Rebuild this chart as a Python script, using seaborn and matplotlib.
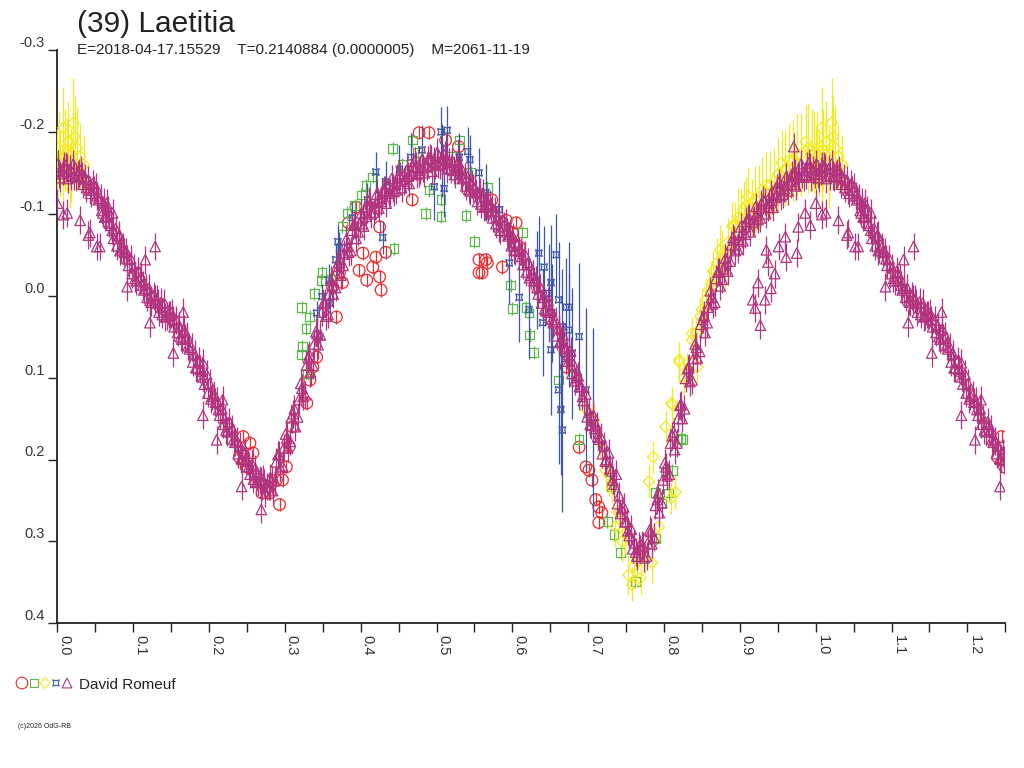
import pandas as pd
import seaborn as sns
import matplotlib.pyplot as plt
import numpy as np
from matplotlib.ticker import MultipleLocator, FuncFormatter

# titles
title = "(39) Laetitia"
subtitle = "E=2018-04-17.15529    T=0.2140884 (0.0000005)    M=2061-11-19"
observer = "David Romeuf"
copyright_txt = "(c)2026 OdG-RB"

# purple triangles (main session), phase 0..1
purple_phase = [
    0.001, 0.004, 0.007, 0.011, 0.014, 0.017, 0.021, 0.024, 0.027, 0.031, 0.034, 0.037,
    0.041, 0.044, 0.047, 0.051, 0.054, 0.057, 0.061, 0.064, 0.067, 0.071, 0.074, 0.077,
    0.081, 0.084, 0.087, 0.091, 0.094, 0.097, 0.101, 0.104, 0.107, 0.111, 0.114, 0.117,
    0.121, 0.124, 0.127, 0.131, 0.134, 0.137, 0.141, 0.144, 0.147, 0.151, 0.154, 0.157,
    0.161, 0.164, 0.167, 0.171, 0.174, 0.177, 0.181, 0.184, 0.187, 0.191, 0.194, 0.197,
    0.201, 0.204, 0.207, 0.211, 0.214, 0.217, 0.221, 0.224, 0.227, 0.231, 0.234, 0.237,
    0.241, 0.244, 0.247, 0.251, 0.254, 0.257, 0.261, 0.264, 0.267, 0.271, 0.274, 0.277,
    0.281, 0.284, 0.287, 0.291, 0.294, 0.297, 0.301, 0.304, 0.307, 0.311, 0.314, 0.317,
    0.321, 0.324, 0.327, 0.331, 0.334, 0.337, 0.341, 0.344, 0.347, 0.351, 0.354, 0.357,
    0.361, 0.364, 0.367, 0.371, 0.374, 0.377, 0.381, 0.384, 0.387, 0.391, 0.394, 0.397,
    0.401, 0.404, 0.407, 0.411, 0.414, 0.417, 0.421, 0.424, 0.427, 0.431, 0.434, 0.437,
    0.441, 0.444, 0.447, 0.451, 0.454, 0.457, 0.461, 0.464, 0.467, 0.471, 0.474, 0.477,
    0.481, 0.484, 0.487, 0.491, 0.494, 0.497, 0.501, 0.504, 0.507, 0.511, 0.514, 0.517,
    0.521, 0.524, 0.527, 0.531, 0.534, 0.537, 0.541, 0.544, 0.547, 0.551, 0.554, 0.557,
    0.561, 0.564, 0.567, 0.571, 0.574, 0.577, 0.581, 0.584, 0.587, 0.591, 0.594, 0.597,
    0.601, 0.604, 0.607, 0.611, 0.614, 0.617, 0.621, 0.624, 0.627, 0.631, 0.634, 0.637,
    0.641, 0.644, 0.647, 0.651, 0.654, 0.657, 0.661, 0.664, 0.667, 0.671, 0.674, 0.677,
    0.681, 0.684, 0.687, 0.691, 0.694, 0.697, 0.701, 0.704, 0.707, 0.711, 0.714, 0.717,
    0.721, 0.724, 0.727, 0.731, 0.734, 0.737, 0.741, 0.744, 0.747, 0.751, 0.754, 0.757,
    0.761, 0.764, 0.767, 0.771, 0.774, 0.777, 0.781, 0.784, 0.787, 0.791, 0.794, 0.797,
    0.801, 0.804, 0.807, 0.811, 0.814, 0.817, 0.821, 0.824, 0.827, 0.831, 0.834, 0.837,
    0.841, 0.844, 0.847, 0.851, 0.854, 0.857, 0.861, 0.864, 0.867, 0.871, 0.874, 0.877,
    0.881, 0.884, 0.887, 0.891, 0.894, 0.897, 0.901, 0.904, 0.907, 0.911, 0.914, 0.917,
    0.921, 0.924, 0.927, 0.931, 0.934, 0.937, 0.941, 0.944, 0.947, 0.951, 0.954, 0.957,
    0.961, 0.964, 0.967, 0.971, 0.974, 0.977, 0.981, 0.984, 0.987, 0.991, 0.994, 0.997,
]
purple_mag = [
    -0.161, -0.144, -0.152, -0.159, -0.143, -0.155, -0.161, -0.145, -0.147, -0.153, -0.136, -0.144,
    -0.141, -0.125, -0.137, -0.133, -0.117, -0.119, -0.114, -0.097, -0.105, -0.086, -0.070, -0.082,
    -0.073, -0.057, -0.059, -0.054, -0.037, -0.045, -0.034, -0.018, -0.030, -0.023, -0.007, -0.009,
    -0.009, 0.008, 0.000, 0.004, 0.020, 0.008, 0.009, 0.025, 0.023, 0.021, 0.038, 0.030,
    0.037, 0.053, 0.041, 0.049, 0.065, 0.063, 0.071, 0.088, 0.080, 0.092, 0.108, 0.096,
    0.107, 0.123, 0.121, 0.129, 0.146, 0.138, 0.150, 0.166, 0.154, 0.163, 0.179, 0.177,
    0.183, 0.200, 0.192, 0.202, 0.218, 0.206, 0.211, 0.227, 0.225, 0.224, 0.241, 0.233,
    0.222, 0.238, 0.226, 0.194, 0.210, 0.208, 0.169, 0.186, 0.178, 0.144, 0.160, 0.148,
    0.107, 0.123, 0.121, 0.076, 0.093, 0.085, 0.044, 0.060, 0.048, 0.009, 0.025, 0.023,
    -0.019, -0.002, -0.010, -0.041, -0.025, -0.037, -0.069, -0.053, -0.055, -0.087, -0.070, -0.078,
    -0.101, -0.085, -0.097, -0.116, -0.100, -0.102, -0.124, -0.107, -0.115, -0.129, -0.113, -0.125,
    -0.143, -0.127, -0.129, -0.149, -0.132, -0.140, -0.153, -0.137, -0.149, -0.164, -0.148, -0.150,
    -0.167, -0.150, -0.158, -0.168, -0.152, -0.164, -0.175, -0.159, -0.161, -0.172, -0.155, -0.163,
    -0.164, -0.148, -0.160, -0.159, -0.143, -0.145, -0.145, -0.128, -0.136, -0.131, -0.115, -0.127,
    -0.125, -0.109, -0.111, -0.112, -0.095, -0.103, -0.096, -0.080, -0.092, -0.089, -0.073, -0.075,
    -0.072, -0.055, -0.063, -0.054, -0.038, -0.050, -0.041, -0.025, -0.027, -0.019, -0.002, -0.010,
    0.002, 0.018, 0.006, 0.017, 0.033, 0.031, 0.039, 0.056, 0.048, 0.064, 0.080, 0.068,
    0.084, 0.100, 0.098, 0.111, 0.128, 0.120, 0.142, 0.158, 0.146, 0.159, 0.175, 0.173,
    0.183, 0.200, 0.192, 0.214, 0.230, 0.218, 0.244, 0.260, 0.258, 0.276, 0.293, 0.285,
    0.302, 0.318, 0.306, 0.304, 0.320, 0.318, 0.286, 0.303, 0.295, 0.249, 0.265, 0.253,
    0.204, 0.220, 0.218, 0.171, 0.188, 0.180, 0.134, 0.150, 0.138, 0.089, 0.105, 0.103,
    0.059, 0.076, 0.068, 0.029, 0.045, 0.033, -0.006, 0.010, 0.008, -0.029, -0.012, -0.020,
    -0.046, -0.030, -0.042, -0.071, -0.055, -0.057, -0.084, -0.067, -0.075, -0.094, -0.078, -0.090,
    -0.109, -0.093, -0.095, -0.117, -0.100, -0.108, -0.124, -0.108, -0.120, -0.138, -0.122, -0.124,
    -0.145, -0.128, -0.136, -0.150, -0.134, -0.146, -0.161, -0.145, -0.147, -0.162, -0.145, -0.153,
]
# second purple session, interleaved with the first
purple2_phase = [
    0.0025, 0.0085, 0.0125, 0.0185, 0.0225, 0.0285, 0.0325, 0.0385, 0.0425, 0.0485,
    0.0525, 0.0585, 0.0625, 0.0685, 0.0725, 0.0785, 0.0825, 0.0885, 0.0925, 0.0985,
    0.1025, 0.1085, 0.1125, 0.1185, 0.1225, 0.1285, 0.1325, 0.1385, 0.1425, 0.1485,
    0.1525, 0.1585, 0.1625, 0.1685, 0.1725, 0.1785, 0.1825, 0.1885, 0.1925, 0.1985,
    0.2025, 0.2085, 0.2125, 0.2185, 0.2225, 0.2285, 0.2325, 0.2385, 0.2425, 0.2485,
    0.2525, 0.2585, 0.2625, 0.2685, 0.2725, 0.2785, 0.2825, 0.2885, 0.2925, 0.2985,
    0.3025, 0.3085, 0.3125, 0.3185, 0.3225, 0.3285, 0.3325, 0.3385, 0.3425, 0.3485,
    0.3525, 0.3585, 0.3625, 0.3685, 0.3725, 0.3785, 0.3825, 0.3885, 0.3925, 0.3985,
    0.4025, 0.4085, 0.4125, 0.4185, 0.4225, 0.4285, 0.4325, 0.4385, 0.4425, 0.4485,
    0.4525, 0.4585, 0.4625, 0.4685, 0.4725, 0.4785, 0.4825, 0.4885, 0.4925, 0.4985,
    0.5025, 0.5085, 0.5125, 0.5185, 0.5225, 0.5285, 0.5325, 0.5385, 0.5425, 0.5485,
    0.5525, 0.5585, 0.5625, 0.5685, 0.5725, 0.5785, 0.5825, 0.5885, 0.5925, 0.5985,
    0.6025, 0.6085, 0.6125, 0.6185, 0.6225, 0.6285, 0.6325, 0.6385, 0.6425, 0.6485,
    0.6525, 0.6585, 0.6625, 0.6685, 0.6725, 0.6785, 0.6825, 0.6885, 0.6925, 0.6985,
    0.7025, 0.7085, 0.7125, 0.7185, 0.7225, 0.7285, 0.7325, 0.7385, 0.7425, 0.7485,
    0.7525, 0.7585, 0.7625, 0.7685, 0.7725, 0.7785, 0.7825, 0.7885, 0.7925, 0.7985,
    0.8025, 0.8085, 0.8125, 0.8185, 0.8225, 0.8285, 0.8325, 0.8385, 0.8425, 0.8485,
    0.8525, 0.8585, 0.8625, 0.8685, 0.8725, 0.8785, 0.8825, 0.8885, 0.8925, 0.8985,
    0.9025, 0.9085, 0.9125, 0.9185, 0.9225, 0.9285, 0.9325, 0.9385, 0.9425, 0.9485,
    0.9525, 0.9585, 0.9625, 0.9685, 0.9725, 0.9785, 0.9825, 0.9885, 0.9925, 0.9985,
]
purple2_mag = [
    -0.149, -0.158, -0.156, -0.146, -0.146, -0.150, -0.146, -0.132, -0.129, -0.129,
    -0.122, -0.104, -0.096, -0.089, -0.080, -0.061, -0.055, -0.053, -0.045, -0.027,
    -0.021, -0.019, -0.013, 0.002, 0.006, 0.004, 0.009, 0.023, 0.026, 0.024,
    0.029, 0.045, 0.050, 0.052, 0.061, 0.081, 0.088, 0.090, 0.099, 0.119,
    0.126, 0.130, 0.139, 0.157, 0.164, 0.166, 0.175, 0.193, 0.199, 0.201,
    0.208, 0.224, 0.228, 0.226, 0.228, 0.233, 0.225, 0.203, 0.194, 0.186,
    0.174, 0.149, 0.138, 0.127, 0.113, 0.085, 0.072, 0.059, 0.046, 0.020,
    0.009, -0.002, -0.013, -0.036, -0.045, -0.051, -0.060, -0.080, -0.086, -0.088,
    -0.095, -0.109, -0.112, -0.110, -0.114, -0.127, -0.129, -0.127, -0.131, -0.144,
    -0.146, -0.142, -0.146, -0.157, -0.158, -0.153, -0.156, -0.166, -0.167, -0.160,
    -0.161, -0.168, -0.166, -0.155, -0.153, -0.155, -0.149, -0.134, -0.130, -0.132,
    -0.126, -0.112, -0.108, -0.110, -0.104, -0.088, -0.084, -0.085, -0.078, -0.061,
    -0.056, -0.055, -0.048, -0.029, -0.022, -0.018, -0.010, 0.009, 0.016, 0.020,
    0.029, 0.049, 0.057, 0.062, 0.072, 0.095, 0.104, 0.111, 0.123, 0.148,
    0.157, 0.162, 0.172, 0.193, 0.202, 0.211, 0.225, 0.254, 0.266, 0.276,
    0.287, 0.309, 0.313, 0.309, 0.306, 0.302, 0.288, 0.256, 0.241, 0.225,
    0.209, 0.180, 0.166, 0.150, 0.133, 0.101, 0.088, 0.077, 0.063, 0.035,
    0.024, 0.014, 0.002, -0.021, -0.029, -0.033, -0.042, -0.062, -0.068, -0.069,
    -0.075, -0.091, -0.095, -0.093, -0.098, -0.112, -0.115, -0.113, -0.117, -0.131,
    -0.133, -0.131, -0.135, -0.148, -0.150, -0.145, -0.148, -0.158, -0.157, -0.148,
]
# scattered purple points off the main band
purple_out_phase = [0.000, 0.013, 0.043, 0.056, 0.065, 0.073, 0.082, 0.092, 0.116, 0.122,
                    0.129, 0.153, 0.166, 0.192, 0.192, 0.210, 0.218, 0.243, 0.269,
                    0.917, 0.920, 0.924, 0.927, 0.933, 0.935, 0.937, 0.941, 0.946, 0.951,
                    0.960, 0.961, 0.971, 0.975, 0.977, 0.986, 0.993, 0.008, 0.030, 0.041,
                    0.052, 0.060]
purple_out_mag = [-0.113, -0.101, -0.077, -0.060, -0.113, -0.101, -0.074, -0.011, -0.044, 0.033,
                  -0.060, 0.070, 0.020, 0.082, 0.146, 0.176, 0.127, 0.233, 0.261,
                  0.005, 0.015, -0.016, 0.036, 0.005, -0.056, -0.041, -0.009, -0.027, -0.060,
                  -0.072, -0.047, -0.182, -0.052, -0.084, -0.101, -0.086, -0.099, -0.092, -0.074,
                  -0.060, -0.101]
purple_err = 0.017

# red circles
red_phase = [0.240, 0.245, 0.249, 0.254, 0.258, 0.262, 0.270, 0.280, 0.289, 0.293,
             0.297, 0.302, 0.306, 0.310, 0.329, 0.333, 0.337, 0.342, 0.363, 0.368,
             0.372, 0.376, 0.384, 0.394, 0.398, 0.403, 0.408, 0.416, 0.420, 0.425,
             0.425, 0.427, 0.433, 0.468, 0.477, 0.490, 0.512, 0.529, 0.556, 0.556,
             0.560, 0.565, 0.567, 0.573, 0.587, 0.592, 0.600, 0.605, 0.609, 0.671,
             0.688, 0.697, 0.701, 0.705, 0.710, 0.714, 0.714, 0.718]
red_mag = [0.197, 0.172, 0.209, 0.180, 0.192, 0.221, 0.241, 0.241, 0.225, 0.255,
           0.225, 0.209, 0.184, 0.160, 0.131, 0.103, 0.087, 0.075, -0.011, 0.026,
           -0.028, -0.016, -0.089, -0.108, -0.031, -0.052, -0.019, -0.035, -0.047, -0.023,
           -0.084, -0.007, -0.053, -0.117, -0.199, -0.199, -0.190, -0.182, -0.044, -0.028,
           -0.028, -0.044, -0.040, -0.117, -0.035, -0.092, -0.077, -0.089, -0.060, 0.087,
           0.185, 0.209, 0.213, 0.225, 0.249, 0.258, 0.277, 0.265]
red_err = 0.008

# green squares
green_phase = [0.322, 0.322, 0.323, 0.328, 0.330, 0.333, 0.339, 0.348, 0.349, 0.376,
               0.382, 0.401, 0.407, 0.416, 0.442, 0.444, 0.468, 0.486, 0.490, 0.506,
               0.506, 0.530, 0.539, 0.550, 0.567, 0.598, 0.600, 0.613, 0.618, 0.622,
               0.623, 0.628, 0.661, 0.683, 0.688, 0.725, 0.730, 0.734, 0.743, 0.762,
               0.789, 0.789, 0.797, 0.802, 0.806, 0.811, 0.822, 0.824,
               0.455, 0.475, 0.520, 0.545, 0.360, 0.392]
green_mag = [0.014, 0.072, 0.062, 0.040, 0.095, 0.026, -0.003, -0.019, -0.028, -0.085,
             -0.101, -0.123, -0.135, -0.145, -0.180, -0.058, -0.190, -0.100, -0.129, -0.117,
             -0.097, -0.190, -0.098, -0.066, -0.132, -0.013, 0.016, -0.077, 0.014, 0.021,
             0.048, 0.069, 0.103, 0.097, 0.176, 0.276, 0.233, 0.292, 0.314, 0.349,
             0.240, 0.296, 0.253, 0.216, 0.241, 0.213, 0.174, 0.176,
             -0.160, -0.175, -0.170, -0.150, -0.020, -0.110]
green_err = 0.008

# yellow diamonds
yellow_phase = [0.000, 0.002, 0.004, 0.008, 0.008, 0.013, 0.014, 0.017, 0.021, 0.023,
                0.697, 0.708, 0.723, 0.731, 0.736, 0.740, 0.749, 0.753, 0.758, 0.769,
                0.780, 0.784, 0.786, 0.793, 0.802, 0.809, 0.810, 0.811, 0.815, 0.820,
                0.820, 0.837, 0.837, 0.844, 0.850, 0.859, 0.874, 0.881, 0.898, 0.911,
                0.916, 0.929, 0.955, 0.987,
                0.890, 0.905, 0.920, 0.935, 0.945, 0.965, 0.975, 0.995, 0.030, 0.035,
                0.865, 0.870, 0.826, 0.830, 0.760, 0.765, 0.775, 0.745, 0.728, 0.715,
                0.842, 0.848, 0.855, 0.862, 0.877, 0.884, 0.893, 0.902, 0.908, 0.925,
                0.940, 0.950, 0.960, 0.970, 0.980, 0.990, 0.998, 0.010, 0.026, 0.018]
yellow_mag = [-0.154, -0.180, -0.162, -0.205, -0.141, -0.172, -0.188, -0.147, -0.211, -0.194,
              0.139, 0.152, 0.213, 0.233, 0.282, 0.265, 0.290, 0.341, 0.353, 0.345,
              0.227, 0.326, 0.197, 0.282, 0.160, 0.247, 0.131, 0.133, 0.240, 0.081,
              0.078, 0.054, 0.046, 0.087, 0.017, -0.007, -0.056, -0.035, -0.096, -0.121,
              -0.108, -0.129, -0.162, -0.188,
              -0.085, -0.105, -0.118, -0.135, -0.140, -0.165, -0.172, -0.178, -0.170, -0.160,
              -0.030, -0.040, 0.100, 0.090, 0.330, 0.325, 0.320, 0.300, 0.220, 0.180,
              0.045, 0.025, 0.005, -0.015, -0.050, -0.065, -0.085, -0.095, -0.110, -0.120,
              -0.135, -0.148, -0.155, -0.165, -0.172, -0.180, -0.175, -0.178, -0.180, -0.160]
yellow_err = [0.05, 0.045, 0.04, 0.05, 0.04, 0.045, 0.05, 0.04, 0.055, 0.05,
              0.02, 0.02, 0.025, 0.02, 0.025, 0.02, 0.025, 0.025, 0.02, 0.02,
              0.02, 0.025, 0.02, 0.02, 0.02, 0.02, 0.02, 0.02, 0.02, 0.025,
              0.02, 0.025, 0.02, 0.02, 0.025, 0.025, 0.03, 0.03, 0.035, 0.035,
              0.035, 0.04, 0.04, 0.045,
              0.03, 0.035, 0.04, 0.04, 0.04, 0.045, 0.05, 0.05, 0.04, 0.035,
              0.025, 0.03, 0.02, 0.02, 0.02, 0.02, 0.02, 0.025, 0.025, 0.02,
              0.02, 0.02, 0.025, 0.025, 0.03, 0.03, 0.03, 0.035, 0.035, 0.04,
              0.04, 0.045, 0.045, 0.05, 0.05, 0.055, 0.05, 0.05, 0.05, 0.045]

# blue stars
blue_phase = [0.342, 0.346, 0.349, 0.358, 0.359, 0.367, 0.370, 0.372, 0.389, 0.409,
              0.420, 0.429, 0.433, 0.451, 0.466, 0.481, 0.497, 0.506, 0.510, 0.514,
              0.530, 0.541, 0.544, 0.556, 0.565, 0.583, 0.596, 0.609, 0.622, 0.632,
              0.635, 0.640, 0.642, 0.648, 0.651, 0.651, 0.652, 0.658, 0.661, 0.661,
              0.664, 0.666, 0.666, 0.671, 0.675, 0.675, 0.679, 0.688, 0.697, 0.706,
              0.507]
blue_mag = [0.021, 0.050, 0.001, -0.019, 0.009, -0.044, -0.066, -0.058, -0.095, -0.117,
            -0.151, -0.071, -0.139, -0.154, -0.169, -0.178, -0.133, -0.200, -0.131, -0.202,
            -0.169, -0.176, -0.166, -0.150, -0.126, -0.105, -0.040, 0.002, 0.017, -0.019,
            -0.052, 0.033, -0.035, -0.003, -0.016, 0.066, 0.021, -0.050, 0.005, 0.115,
            0.139, 0.038, 0.164, 0.014, 0.014, 0.042, 0.070, 0.050, 0.115, 0.155,
            -0.165]
blue_err = [0.015, 0.015, 0.015, 0.02, 0.015, 0.02, 0.02, 0.02, 0.02, 0.02,
            0.025, 0.02, 0.025, 0.03, 0.03, 0.03, 0.04, 0.03, 0.035, 0.03,
            0.03, 0.03, 0.03, 0.03, 0.035, 0.04, 0.05, 0.055, 0.06, 0.06,
            0.045, 0.065, 0.05, 0.06, 0.07, 0.08, 0.06, 0.05, 0.07, 0.09,
            0.08, 0.07, 0.1, 0.06, 0.08, 0.07, 0.08, 0.09, 0.1, 0.115,
            0.045]

RED = '#ee2a2a'
GREEN = '#5cb848'
YELLOW = '#f2ea1e'
BLUE = '#3d56a8'
PURPLE = '#b2347f'


def fold(phase, mag, err):
    # repeat the first quarter of the cycle after phase 1.0
    df = pd.DataFrame({'phase': phase, 'mag': mag})
    df['err'] = err
    extra = df[df.phase < 0.25].copy()
    extra['phase'] = extra['phase'] + 1
    return pd.concat([df, extra], ignore_index=True)


df_red = fold(red_phase, red_mag, red_err)
df_green = fold(green_phase, green_mag, green_err)
df_yellow = fold(yellow_phase, yellow_mag, yellow_err)
df_blue = fold(blue_phase, blue_mag, blue_err)
df_purple = fold(purple_phase + purple2_phase + purple_out_phase,
                 purple_mag + purple2_mag + purple_out_mag, purple_err)

sns.set_style('white')
plt.rcParams['font.family'] = ['Liberation Sans', 'DejaVu Sans']
plt.rcParams['axes.unicode_minus'] = False

fig = plt.figure(figsize=(10.24, 7.68), dpi=100)
ax = fig.add_axes([57.3 / 1024, 1 - 623.3 / 768, 948 / 1024, 573.3 / 768])

series = [
    (df_red, 'o', RED, 70),
    (df_green, 's', GREEN, 40),
    (df_yellow, 'D', YELLOW, 34),
    (df_blue, (4, 1, 45), BLUE, 45),
    (df_purple, '^', PURPLE, 56),
]
for z, (d, mk, col, size) in enumerate(series):
    ax.errorbar(d.phase, d.mag, yerr=d.err, fmt='none', ecolor=col,
                elinewidth=0.9, capsize=0, zorder=2 + z)
    sns.scatterplot(data=d, x='phase', y='mag', marker=mk, s=size,
                    facecolor='none', edgecolor=col, linewidth=0.9,
                    legend=False, ax=ax, zorder=2.5 + z)

ax.set_xlim(0, 1.25)
ax.set_ylim(0.4, -0.3)
ax.set_xlabel('')
ax.set_ylabel('')

fmt = FuncFormatter(lambda v, p: f'{round(v, 1) + 0.0:.1f}')
ax.xaxis.set_major_locator(MultipleLocator(0.1))
ax.xaxis.set_minor_locator(MultipleLocator(0.05))
ax.xaxis.set_major_formatter(fmt)
ax.yaxis.set_major_locator(MultipleLocator(0.1))
ax.yaxis.set_major_formatter(fmt)

ax.tick_params(axis='x', which='both', direction='out', length=6.8, width=1,
               color='#222222', labelcolor='#333333', labelsize=10.5, pad=1.5,
               labelrotation=-90, bottom=True)
ax.tick_params(axis='y', which='major', direction='out', length=6.8, width=1,
               color='#222222', labelcolor='#333333', labelsize=10.5, pad=2.5, left=True)
plt.setp(ax.get_xticklabels(), ha='left', va='top')
plt.setp(ax.get_yticklabels(), va='bottom')

for side in ['top', 'right']:
    ax.spines[side].set_visible(False)
for side in ['left', 'bottom']:
    ax.spines[side].set_linewidth(1.3)
    ax.spines[side].set_color('#222222')

# header texts
fig.text(77 / 1024, 1 - 31.7 / 768, title, fontsize=21.5, color='#222222', va='baseline')
fig.text(77 / 1024, 1 - 54 / 768, subtitle, fontsize=11, color='#222222', va='baseline')

# observer legend row
lax = fig.add_axes([0, 0, 1, 1], zorder=-1)
lax.set_xlim(0, 1024)
lax.set_ylim(768, 0)
lax.axis('off')
legend_marks = [('o', RED, 70, 22), ('s', GREEN, 40, 34), ('D', YELLOW, 30, 45),
                ((4, 1, 45), BLUE, 40, 56), ('^', PURPLE, 50, 67)]
for mk, col, size, xpix in legend_marks:
    lax.scatter([xpix], [683], marker=mk, s=size, facecolor='none', edgecolor=col, linewidth=0.8)
fig.text(79 / 1024, 1 - 689 / 768, observer, fontsize=11, color='#222222', va='baseline')
fig.text(18 / 1024, 1 - 726 / 768, copyright_txt, fontsize=5, color='#222222', va='center')

fig.savefig('out.png', dpi=100)
